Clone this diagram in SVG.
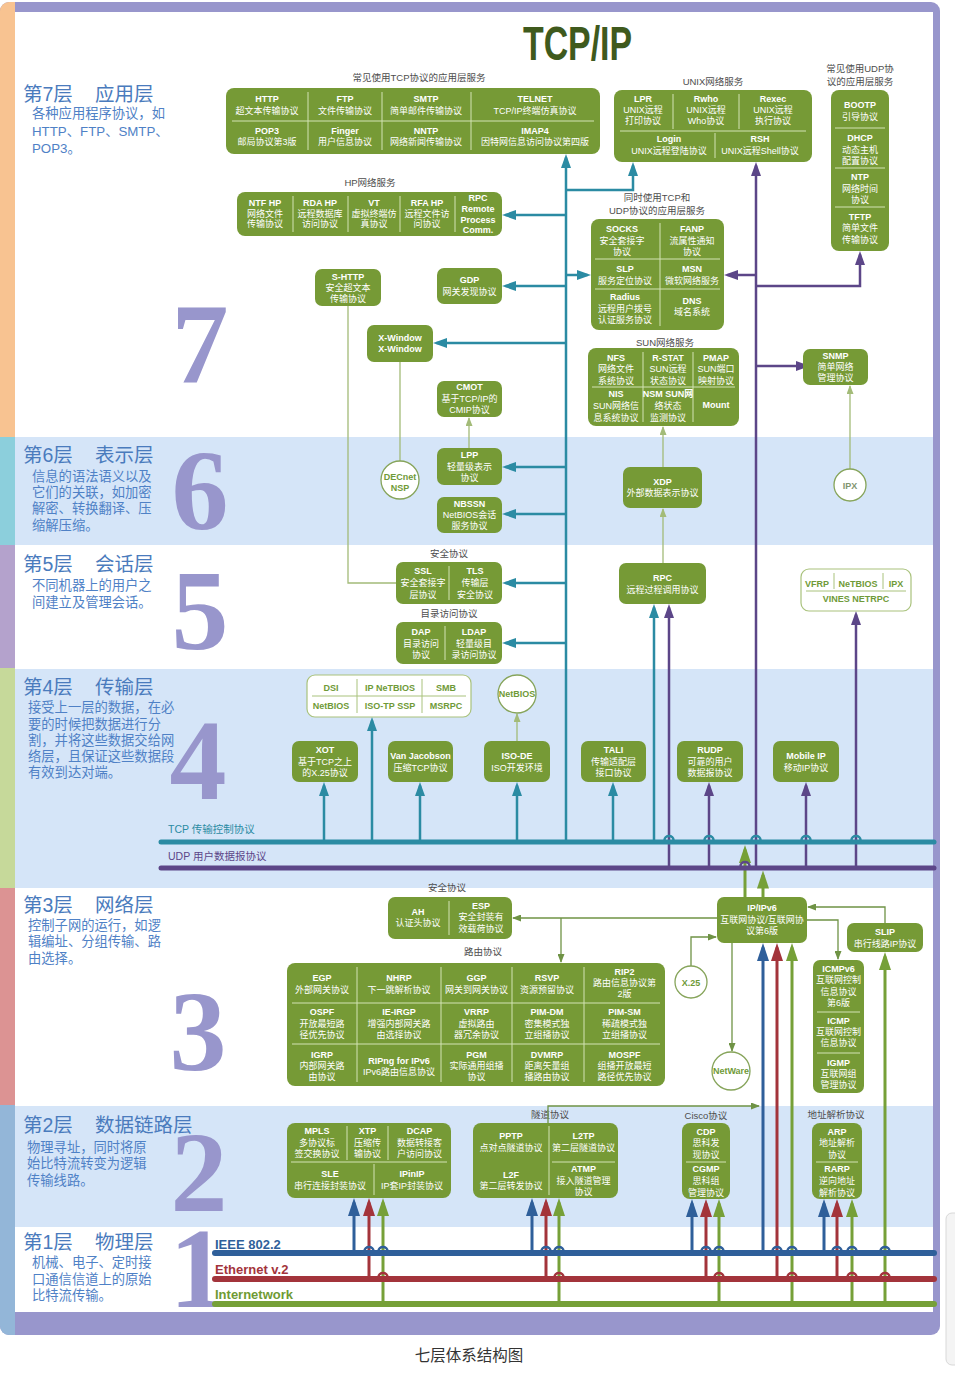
<svg xmlns="http://www.w3.org/2000/svg" width="955" height="1376" viewBox="0 0 955 1376">
<defs>
<style>
text{font-family:"Liberation Sans","Noto Sans CJK SC",sans-serif;}
.g{fill:#769a36;}
.gw{fill:#fff;stroke:#a9c27c;stroke-width:1.2;}
.dv{stroke:#d3e3b4;stroke-width:1;fill:none;}
.dvg{stroke:#a9c27c;stroke-width:1;fill:none;}
.n{fill:#fff;font-size:9px;font-weight:bold;text-anchor:middle;}
.d{fill:#fff;font-size:9px;text-anchor:middle;}
.gt{fill:#6f9a38;font-size:9px;font-weight:bold;text-anchor:middle;}
.lb{fill:#4d4d4d;font-size:9.5px;text-anchor:middle;}
.hd{fill:#4a7bbd;font-size:19.5px;}
.ds{fill:#4f81c6;font-size:13.3px;}
.nm{font-family:"Liberation Serif",serif;font-weight:bold;font-size:114px;fill:#9896cc;text-anchor:middle;}
.cir{fill:#fff;stroke:#86a45a;stroke-width:1.3;}
.ct{fill:none;stroke:#2b8ba3;stroke-width:2.5;}
.cp{fill:none;stroke:#5c4688;stroke-width:2.5;}
.cb{fill:none;stroke:#2f5f9a;stroke-width:3;}
.cr{fill:none;stroke:#a3343b;stroke-width:3;}
.cg{fill:none;stroke:#76a038;stroke-width:3;}
.cs{fill:none;stroke:#6f9345;stroke-width:1.3;}
.cl{fill:none;stroke:#a3bb78;stroke-width:1.3;}
</style>
<marker id="mT" markerUnits="userSpaceOnUse" markerWidth="14" markerHeight="10" refX="10.5" refY="5" orient="auto"><path d="M0,0L14,5L0,10z" fill="#2b8ba3"/></marker>
<marker id="mP" markerUnits="userSpaceOnUse" markerWidth="14" markerHeight="10" refX="10.5" refY="5" orient="auto"><path d="M0,0L14,5L0,10z" fill="#5c4688"/></marker>
<marker id="mB" markerUnits="userSpaceOnUse" markerWidth="18" markerHeight="12" refX="13.5" refY="6" orient="auto"><path d="M0,0L18,6L0,12z" fill="#2f5f9a"/></marker>
<marker id="mR" markerUnits="userSpaceOnUse" markerWidth="18" markerHeight="12" refX="13.5" refY="6" orient="auto"><path d="M0,0L18,6L0,12z" fill="#a3343b"/></marker>
<marker id="mG" markerUnits="userSpaceOnUse" markerWidth="18" markerHeight="12" refX="13.5" refY="6" orient="auto"><path d="M0,0L18,6L0,12z" fill="#76a038"/></marker>
<marker id="mS" markerUnits="userSpaceOnUse" markerWidth="9" markerHeight="7" refX="8" refY="3.5" orient="auto"><path d="M0,0L9,3.5L0,7z" fill="#6f9345"/></marker>
<marker id="mL" markerUnits="userSpaceOnUse" markerWidth="9" markerHeight="7" refX="8" refY="3.5" orient="auto"><path d="M0,0L9,3.5L0,7z" fill="#a3bb78"/></marker>
<clipPath id="fc"><rect x="0" y="2" width="940" height="1333" rx="9"/></clipPath>
</defs>

<rect x="0" y="0" width="955" height="1376" fill="#fff"/>
<g id="frame" clip-path="url(#fc)">
<rect x="0" y="2" width="940" height="1333" fill="#9896cc"/>
<rect x="0" y="2" width="15" height="435" fill="#f8c391"/>
<rect x="0" y="437" width="15" height="108" fill="#8ccfdc"/>
<rect x="0" y="545" width="15" height="123" fill="#b4a2cc"/>
<rect x="0" y="668" width="15" height="220" fill="#c6d99a"/>
<rect x="0" y="888" width="15" height="217" fill="#dc9393"/>
<rect x="0" y="1105" width="15" height="230" fill="#93b6d8"/>
<rect x="15" y="12" width="918" height="425" fill="#fff"/>
<rect x="15" y="437" width="918" height="108" fill="#d5e5f8"/>
<rect x="15" y="545" width="918" height="124" fill="#fff"/>
<rect x="15" y="669" width="918" height="219" fill="#d5e5f8"/>
<rect x="15" y="888" width="918" height="218" fill="#fff"/>
<rect x="15" y="1106" width="918" height="121" fill="#d5e5f8"/>
<rect x="15" y="1227" width="918" height="85" fill="#fff"/>
</g>
<rect x="946" y="1213" width="20" height="152" rx="6" fill="#f4f4f4" stroke="#d8d8d8"/>

<g id="title"><text x="523" y="60" font-size="48" font-weight="bold" fill="#3f5a1d" textLength="109" lengthAdjust="spacingAndGlyphs">TCP/IP</text></g>

<g id="layer-labels">
<text class="hd" x="23" y="101">第7层</text><text class="hd" x="95" y="101">应用层</text>
<text class="ds" x="32" y="118">各种应用程序协议，如</text>
<text class="ds" x="32" y="135.5">HTTP、FTP、SMTP、</text>
<text class="ds" x="32" y="153">POP3。</text>
<text class="hd" x="23" y="462">第6层</text><text class="hd" x="95" y="462">表示层</text>
<text class="ds" x="32" y="481">信息的语法语义以及</text>
<text class="ds" x="32" y="497">它们的关联，如加密</text>
<text class="ds" x="32" y="513">解密、转换翻译、压</text>
<text class="ds" x="32" y="529.5">缩解压缩。</text>
<text class="hd" x="23" y="571">第5层</text><text class="hd" x="95" y="571">会话层</text>
<text class="ds" x="32" y="590">不同机器上的用户之</text>
<text class="ds" x="32" y="607">间建立及管理会话。</text>
<text class="hd" x="23" y="694">第4层</text><text class="hd" x="95" y="694">传输层</text>
<text class="ds" x="28" y="712">接受上一层的数据，在必</text>
<text class="ds" x="28" y="729">要的时候把数据进行分</text>
<text class="ds" x="28" y="745">割，并将这些数据交给网</text>
<text class="ds" x="28" y="761">络层，且保证这些数据段</text>
<text class="ds" x="28" y="777">有效到达对端。</text>
<text class="hd" x="23" y="912">第3层</text><text class="hd" x="95" y="912">网络层</text>
<text class="ds" x="28" y="929.5">控制子网的运行，如逻</text>
<text class="ds" x="28" y="946">辑编址、分组传输、路</text>
<text class="ds" x="28" y="962.5">由选择。</text>
<text class="hd" x="23" y="1132">第2层</text><text class="hd" x="95" y="1132">数据链路层</text>
<text class="ds" x="27" y="1152">物理寻址，同时将原</text>
<text class="ds" x="27" y="1168">始比特流转变为逻辑</text>
<text class="ds" x="27" y="1184.5">传输线路。</text>
<text class="hd" x="23" y="1249">第1层</text><text class="hd" x="95" y="1249">物理层</text>
<text class="ds" x="32" y="1267">机械、电子、定时接</text>
<text class="ds" x="32" y="1283.5">口通信信道上的原始</text>
<text class="ds" x="32" y="1300">比特流传输。</text>
<text class="nm" x="200" y="383">7</text>
<text class="nm" x="200" y="529">6</text>
<text class="nm" x="200" y="649">5</text>
<text class="nm" x="198" y="799">4</text>
<text class="nm" x="198" y="1070">3</text>
<text class="nm" x="199" y="1211">2</text>
<text class="nm" x="198" y="1307">1</text>
</g>

<g id="group-labels">
<text class="lb" x="419" y="81">常见使用TCP协议的应用层服务</text>
<text class="lb" x="370" y="186">HP网络服务</text>
<text class="lb" x="713" y="85">UNIX网络服务</text>
<text class="lb" x="860" y="72">常见使用UDP协</text>
<text class="lb" x="860" y="84.5">议的应用层服务</text>
<text class="lb" x="657" y="201">同时使用TCP和</text>
<text class="lb" x="657" y="213.5">UDP协议的应用层服务</text>
<text class="lb" x="665" y="346">SUN网络服务</text>
<text class="lb" x="449" y="557">安全协议</text>
<text class="lb" x="449" y="617">目录访问协议</text>
<text class="lb" x="447" y="891">安全协议</text>
<text class="lb" x="483" y="955">路由协议</text>
<text class="lb" x="550" y="1118">隧道协议</text>
<text class="lb" x="706" y="1118.5">Cisco协议</text>
<text class="lb" x="836" y="1118">地址解析协议</text>
<text x="168" y="833" font-size="10.5" fill="#2b8ba3">TCP 传输控制协议</text>
<text x="168" y="860" font-size="10.5" fill="#5c4688">UDP 用户数据报协议</text>
<text x="215" y="1249" font-size="13" font-weight="bold" fill="#2f5f9a">IEEE 802.2</text>
<text x="215" y="1273.5" font-size="13" font-weight="bold" fill="#a3343b">Ethernet v.2</text>
<text x="215" y="1299" font-size="13" font-weight="bold" fill="#6f9a33">Internetwork</text>
</g>

<g id="connectors">
<!-- teal TCP -->
<path class="ct" d="M566,842V157.5" marker-end="url(#mT)"/>
<path class="ct" d="M566,190H633V165.5" marker-end="url(#mT)"/>
<path class="ct" d="M566,215H505.5" marker-end="url(#mT)"/>
<path class="ct" d="M566,286H505.5" marker-end="url(#mT)"/>
<path class="ct" d="M566,275H587.5" marker-end="url(#mT)"/>
<path class="ct" d="M566,343H436.5" marker-end="url(#mT)"/>
<path class="ct" d="M566,467H505.5" marker-end="url(#mT)"/>
<path class="ct" d="M566,514H505.5" marker-end="url(#mT)"/>
<path class="ct" d="M566,583H505.5" marker-end="url(#mT)"/>
<path class="ct" d="M566,643H505.5" marker-end="url(#mT)"/>
<path class="ct" d="M654,842V607.5" marker-end="url(#mT)"/>
<path class="ct" d="M324,842V785.5" marker-end="url(#mT)"/>
<path class="ct" d="M372,842V720.5" marker-end="url(#mT)"/>
<path class="ct" d="M420,842V785.5" marker-end="url(#mT)"/>
<path class="ct" d="M517,842V785.5" marker-end="url(#mT)"/>
<path class="ct" d="M613,842V785.5" marker-end="url(#mT)"/>
<!-- purple UDP -->
<path class="cp" d="M756,868V165.5" marker-end="url(#mP)"/>
<path class="cp" d="M756,275H727.5" marker-end="url(#mP)"/>
<path class="cp" d="M756,286H860V254.5" marker-end="url(#mP)"/>
<path class="cp" d="M756,366H806.5" marker-end="url(#mP)"/>
<path class="cp" d="M669,868V607.5" marker-end="url(#mP)"/>
<path class="cp" d="M709,868V785.5" marker-end="url(#mP)"/>
<path class="cp" d="M806,868V785.5" marker-end="url(#mP)"/>
<path class="cp" d="M856,868V614.5" marker-end="url(#mP)"/>
<!-- IP to transport -->
<path class="cg" d="M745,897V849.5" marker-end="url(#mG)"/>
<path class="cg" d="M763,897V875" marker-end="url(#mG)"/>
<!-- light thin green -->
<path class="cl" d="M348,306V583H396"/>
<path class="cl" d="M400,362V461"/>
<path class="cl" d="M469,448V418" marker-end="url(#mL)"/>
<path class="cl" d="M663,563V509" marker-end="url(#mL)"/>
<path class="cl" d="M663,467V427" marker-end="url(#mL)"/>
<path class="cl" d="M517,741V714" marker-end="url(#mL)"/>
<path class="cl" d="M850,469V386" marker-end="url(#mL)"/>
<!-- layer 3 thin green -->
<path class="cs" d="M717,918H513" marker-end="url(#mS)"/>
<path class="cs" d="M561,918V962" marker-end="url(#mS)"/>
<path class="cs" d="M691,966V937H716" marker-end="url(#mS)"/>
<path class="cs" d="M732,943V1051" marker-end="url(#mS)"/>
<path class="cs" d="M807,920H838V959" marker-end="url(#mS)"/>
<path class="cs" d="M885,923V907H808" marker-end="url(#mS)"/>
<path class="cs" d="M548,1123V1106H759" marker-end="url(#mS)"/>
<!-- layer 1 verticals -->
<path class="cb" d="M354,1253V1202.5" marker-end="url(#mB)"/>
<path class="cr" d="M369,1279V1202.5" marker-end="url(#mR)"/>
<path class="cg" d="M383,1304V1202.5" marker-end="url(#mG)"/>
<path class="cb" d="M532,1253V1202.5" marker-end="url(#mB)"/>
<path class="cr" d="M546,1279V1202.5" marker-end="url(#mR)"/>
<path class="cg" d="M559,1304V1202.5" marker-end="url(#mG)"/>
<path class="cb" d="M692,1253V1203.5" marker-end="url(#mB)"/>
<path class="cr" d="M706,1279V1203.5" marker-end="url(#mR)"/>
<path class="cg" d="M719,1304V1203.5" marker-end="url(#mG)"/>
<path class="cb" d="M763,1253V947.5" marker-end="url(#mB)"/>
<path class="cr" d="M777,1279V947.5" marker-end="url(#mR)"/>
<path class="cg" d="M792,1304V947.5" marker-end="url(#mG)"/>
<path class="cb" d="M824,1253V1203.5" marker-end="url(#mB)"/>
<path class="cr" d="M837,1279V1203.5" marker-end="url(#mR)"/>
<path class="cg" d="M852,1304V1203.5" marker-end="url(#mG)"/>
<path class="cg" d="M885,1304V956.5" marker-end="url(#mG)"/>
<!-- bus lines -->
<line x1="161" y1="842" x2="934" y2="842" stroke="#2b8ba3" stroke-width="5" stroke-linecap="round"/>
<line x1="161" y1="868" x2="934" y2="868" stroke="#5c4688" stroke-width="5" stroke-linecap="round"/>
<line x1="215" y1="1253" x2="934" y2="1253" stroke="#2f5f9a" stroke-width="6" stroke-linecap="round"/>
<line x1="215" y1="1279" x2="934" y2="1279" stroke="#a3343b" stroke-width="6" stroke-linecap="round"/>
<line x1="215" y1="1304" x2="934" y2="1304" stroke="#76a038" stroke-width="6" stroke-linecap="round"/>
<!-- crossing bumps -->
<path d="M664.5,840a4.5,4 0 0 1 9,0M704.5,840a4.5,4 0 0 1 9,0M751.5,840a4.5,4 0 0 1 9,0M801.5,840a4.5,4 0 0 1 9,0M851.5,840a4.5,4 0 0 1 9,0" fill="none" stroke="#2b8ba3" stroke-width="2.5"/>
<path d="M740.5,866a4.5,4 0 0 1 9,0" fill="none" stroke="#5c4688" stroke-width="2.5"/>
<path d="M364.5,1251a4.5,4 0 0 1 9,0M378.5,1251a4.5,4 0 0 1 9,0M541.5,1251a4.5,4 0 0 1 9,0M554.5,1251a4.5,4 0 0 1 9,0M701.5,1251a4.5,4 0 0 1 9,0M714.5,1251a4.5,4 0 0 1 9,0M772.5,1251a4.5,4 0 0 1 9,0M787.5,1251a4.5,4 0 0 1 9,0M832.5,1251a4.5,4 0 0 1 9,0M847.5,1251a4.5,4 0 0 1 9,0M880.5,1251a4.5,4 0 0 1 9,0" fill="none" stroke="#2f5f9a" stroke-width="2.5"/>
<path d="M378.5,1277a4.5,4 0 0 1 9,0M554.5,1277a4.5,4 0 0 1 9,0M714.5,1277a4.5,4 0 0 1 9,0M787.5,1277a4.5,4 0 0 1 9,0M847.5,1277a4.5,4 0 0 1 9,0M880.5,1277a4.5,4 0 0 1 9,0" fill="none" stroke="#a3343b" stroke-width="2.5"/>
</g>

<g id="tcp-apps"><rect class="g" x="226" y="88" width="374" height="66" rx="8"/>
<path class="dv" d="M232,121H594M308,92V150M382,92V150M471,92V150"/>
<text class="n" x="267" y="102">HTTP</text><text class="d" x="267" y="113.5">超文本传输协议</text>
<text class="n" x="345" y="102">FTP</text><text class="d" x="345" y="113.5">文件传输协议</text>
<text class="n" x="426" y="102">SMTP</text><text class="d" x="426" y="113.5">简单邮件传输协议</text>
<text class="n" x="535" y="102">TELNET</text><text class="d" x="535" y="113.5">TCP/IP终端仿真协议</text>
<text class="n" x="267" y="134">POP3</text><text class="d" x="267" y="145">邮局协议第3版</text>
<text class="n" x="345" y="134">Finger</text><text class="d" x="345" y="145">用户信息协议</text>
<text class="n" x="426" y="134">NNTP</text><text class="d" x="426" y="145">网络新闻传输协议</text>
<text class="n" x="535" y="134">IMAP4</text><text class="d" x="535" y="145">因特网信息访问协议第四版</text>
</g>

<g id="hp"><rect class="g" x="237" y="192" width="265" height="44" rx="8"/>
<path class="dv" d="M293,196V232M348,196V232M400,196V232M455,196V232"/>
<text class="n" x="265" y="206">NTF HP</text><text class="d" x="265" y="216.5">网络文件</text><text class="d" x="265" y="227">传输协议</text>
<text class="n" x="320" y="206">RDA HP</text><text class="d" x="320" y="216.5">远程数据库</text><text class="d" x="320" y="227">访问协议</text>
<text class="n" x="374" y="206">VT</text><text class="d" x="374" y="216.5">虚拟终端仿</text><text class="d" x="374" y="227">真协议</text>
<text class="n" x="427" y="206">RFA HP</text><text class="d" x="427" y="216.5">远程文件访</text><text class="d" x="427" y="227">问协议</text>
<text class="n" x="478" y="201">RPC</text><text class="n" x="478" y="212">Remote</text><text class="n" x="478" y="223">Process</text><text class="n" x="478" y="233">Comm.</text>
</g>

<g id="unix"><rect class="g" x="614" y="90" width="198" height="72" rx="8"/>
<path class="dv" d="M620,131H806M673,94V129M739,94V129M715,133V158"/>
<text class="n" x="643" y="102">LPR</text><text class="d" x="643" y="113">UNIX远程</text><text class="d" x="643" y="124">打印协议</text>
<text class="n" x="706" y="102">Rwho</text><text class="d" x="706" y="113">UNIX远程</text><text class="d" x="706" y="124">Who协议</text>
<text class="n" x="773" y="102">Rexec</text><text class="d" x="773" y="113">UNIX远程</text><text class="d" x="773" y="124">执行协议</text>
<text class="n" x="669" y="142">Login</text><text class="d" x="669" y="153.5">UNIX远程登陆协议</text>
<text class="n" x="760" y="142">RSH</text><text class="d" x="760" y="153.5">UNIX远程Shell协议</text>
</g>

<g id="udp-apps"><rect class="g" x="831" y="90" width="58" height="161" rx="8"/>
<path class="dv" d="M835,128H885M835,168H885M835,207H885"/>
<text class="n" x="860" y="108">BOOTP</text><text class="d" x="860" y="120">引导协议</text>
<text class="n" x="860" y="141">DHCP</text><text class="d" x="860" y="152.5">动态主机</text><text class="d" x="860" y="164">配置协议</text>
<text class="n" x="860" y="180">NTP</text><text class="d" x="860" y="191.5">网络时间</text><text class="d" x="860" y="203">协议</text>
<text class="n" x="860" y="220">TFTP</text><text class="d" x="860" y="231">简单文件</text><text class="d" x="860" y="243">传输协议</text>
</g>

<g id="tcpudp-apps"><rect class="g" x="591" y="219" width="133" height="111" rx="8"/>
<path class="dv" d="M660,223V326M595,259H720M595,289H720"/>
<text class="n" x="622" y="232">SOCKS</text><text class="d" x="622" y="243.5">安全套接字</text><text class="d" x="622" y="255">协议</text>
<text class="n" x="692" y="232">FANP</text><text class="d" x="692" y="243.5">流属性通知</text><text class="d" x="692" y="255">协议</text>
<text class="n" x="625" y="272">SLP</text><text class="d" x="625" y="284">服务定位协议</text>
<text class="n" x="692" y="272">MSN</text><text class="d" x="692" y="284">微软网络服务</text>
<text class="n" x="625" y="300">Radius</text><text class="d" x="625" y="311.5">远程用户拨号</text><text class="d" x="625" y="323">认证服务协议</text>
<text class="n" x="692" y="304">DNS</text><text class="d" x="692" y="315">域名系统</text>
</g>

<g id="sun"><rect class="g" x="588" y="348" width="151" height="78" rx="8"/>
<path class="dv" d="M592,387H735M643,352V422M693,352V422"/>
<text class="n" x="616" y="361">NFS</text><text class="d" x="616" y="372">网络文件</text><text class="d" x="616" y="383.5">系统协议</text>
<text class="n" x="668" y="361">R-STAT</text><text class="d" x="668" y="372">SUN远程</text><text class="d" x="668" y="383.5">状态协议</text>
<text class="n" x="716" y="361">PMAP</text><text class="d" x="716" y="372">SUN端口</text><text class="d" x="716" y="383.5">映射协议</text>
<text class="n" x="616" y="397">NIS</text><text class="d" x="616" y="408.5">SUN网络信</text><text class="d" x="616" y="420.5">息系统协议</text>
<text class="n" x="668" y="397">NSM SUN网</text><text class="d" x="668" y="408.5">络状态</text><text class="d" x="668" y="420.5">监测协议</text>
<text class="n" x="716" y="408">Mount</text>
</g>

<g id="snmp"><rect class="g" x="803" y="349" width="65" height="36" rx="7"/>
<text class="n" x="835.5" y="359">SNMP</text><text class="d" x="835.5" y="370">简单网络</text><text class="d" x="835.5" y="381">管理协议</text>
</g>

<g id="shttp"><rect class="g" x="315" y="269" width="66" height="37" rx="7"/>
<text class="n" x="348" y="279.5">S-HTTP</text><text class="d" x="348" y="291">安全超文本</text><text class="d" x="348" y="302">传输协议</text></g>
<g id="gdp"><rect class="g" x="437" y="268" width="65" height="36" rx="7"/>
<text class="n" x="469.5" y="283">GDP</text><text class="d" x="469.5" y="294.5">网关发现协议</text></g>
<g id="xwindow"><rect class="g" x="367" y="325" width="66" height="37" rx="7"/>
<text class="n" x="400" y="341">X-Window</text><text class="n" x="400" y="352">X-Window</text></g>
<g id="cmot"><rect class="g" x="437" y="381" width="65" height="36" rx="7"/>
<text class="n" x="469.5" y="390">CMOT</text><text class="d" x="469.5" y="401.5">基于TCP/IP的</text><text class="d" x="469.5" y="413">CMIP协议</text></g>

<g id="decnet"><circle class="cir" cx="400" cy="480" r="19"/>
<text class="gt" x="400" y="479.5" font-size="8.5">DECnet</text><text class="gt" x="400" y="491">NSP</text></g>
<g id="lpp"><rect class="g" x="437" y="448" width="65" height="37" rx="7"/>
<text class="n" x="469.5" y="458">LPP</text><text class="d" x="469.5" y="469.5">轻量级表示</text><text class="d" x="469.5" y="481">协议</text></g>
<g id="nbssn"><rect class="g" x="437" y="497" width="65" height="36" rx="7"/>
<text class="n" x="469.5" y="506.5">NBSSN</text><text class="d" x="469.5" y="517.5">NetBIOS会话</text><text class="d" x="469.5" y="529">服务协议</text></g>
<g id="xdp"><rect class="g" x="623" y="467" width="79" height="41" rx="7"/>
<text class="n" x="662.5" y="485">XDP</text><text class="d" x="662.5" y="496">外部数据表示协议</text></g>
<g id="ipx"><circle class="cir" cx="850" cy="485" r="16"/>
<text class="gt" x="850" y="488.5" style="fill:#7f9470">IPX</text></g>

<g id="sec5"><rect class="g" x="396" y="562" width="106" height="42" rx="7"/>
<path class="dv" d="M449,566V600"/>
<text class="n" x="423" y="574">SSL</text><text class="d" x="423" y="586">安全套接字</text><text class="d" x="423" y="597.5">层协议</text>
<text class="n" x="475" y="574">TLS</text><text class="d" x="475" y="586">传输层</text><text class="d" x="475" y="597.5">安全协议</text></g>
<g id="dir5"><rect class="g" x="396" y="622" width="106" height="42" rx="7"/>
<path class="dv" d="M445,626V660"/>
<text class="n" x="421" y="635">DAP</text><text class="d" x="421" y="646.5">目录访问</text><text class="d" x="421" y="658">协议</text>
<text class="n" x="474" y="635">LDAP</text><text class="d" x="474" y="646.5">轻量级目</text><text class="d" x="474" y="658">录访问协议</text></g>
<g id="rpc"><rect class="g" x="619" y="563" width="87" height="41" rx="7"/>
<text class="n" x="662.5" y="581">RPC</text><text class="d" x="662.5" y="592.5">远程过程调用协议</text></g>
<g id="vines"><rect class="gw" x="801" y="569" width="110" height="42" rx="8"/>
<path class="dvg" d="M806,591H906M834,573V589M883,573V589"/>
<text class="gt" x="817" y="587">VFRP</text><text class="gt" x="858" y="587">NeTBIOS</text><text class="gt" x="896" y="587">IPX</text>
<text class="gt" x="856" y="602">VINES NETRPC</text></g>

<g id="dsi"><rect class="gw" x="307" y="675" width="164" height="42" rx="8"/>
<path class="dvg" d="M312,696H466M357,679V713M422,679V713"/>
<text class="gt" x="331" y="690.5">DSI</text><text class="gt" x="390" y="690.5">IP NeTBIOS</text><text class="gt" x="446" y="690.5">SMB</text>
<text class="gt" x="331" y="709">NetBIOS</text><text class="gt" x="390" y="709">ISO-TP SSP</text><text class="gt" x="446" y="709">MSRPC</text></g>
<g id="netbios"><circle class="cir" cx="517" cy="694" r="19"/>
<text class="gt" x="517" y="697" font-size="8.5">NetBIOS</text></g>
<g id="xot"><rect class="g" x="292" y="741" width="66" height="41" rx="7"/>
<text class="n" x="325" y="753">XOT</text><text class="d" x="325" y="764.5">基于TCP之上</text><text class="d" x="325" y="775.5">的X.25协议</text></g>
<g id="vanjacobson"><rect class="g" x="388" y="741" width="65" height="41" rx="7"/>
<text class="n" x="420.5" y="759">Van Jacobson</text><text class="d" x="420.5" y="770.5">压缩TCP协议</text></g>
<g id="isode"><rect class="g" x="484" y="741" width="66" height="41" rx="7"/>
<text class="n" x="517" y="759">ISO-DE</text><text class="d" x="517" y="770.5">ISO开发环境</text></g>
<g id="tali"><rect class="g" x="581" y="741" width="65" height="41" rx="7"/>
<text class="n" x="613.5" y="753">TALI</text><text class="d" x="613.5" y="764.5">传输适配层</text><text class="d" x="613.5" y="775.5">接口协议</text></g>
<g id="rudp"><rect class="g" x="677" y="741" width="66" height="41" rx="7"/>
<text class="n" x="710" y="753">RUDP</text><text class="d" x="710" y="764.5">可靠的用户</text><text class="d" x="710" y="775.5">数据报协议</text></g>
<g id="mobileip"><rect class="g" x="773" y="741" width="66" height="41" rx="7"/>
<text class="n" x="806" y="759">Mobile IP</text><text class="d" x="806" y="770.5">移动IP协议</text></g>

<g id="sec3"><rect class="g" x="388" y="897" width="124" height="42" rx="7"/>
<path class="dv" d="M449,901V935"/>
<text class="n" x="418" y="915">AH</text><text class="d" x="418" y="926">认证头协议</text>
<text class="n" x="481" y="908.5">ESP</text><text class="d" x="481" y="920">安全封装有</text><text class="d" x="481" y="931.5">效载荷协议</text></g>
<g id="routing"><rect class="g" x="287" y="963" width="378" height="123" rx="8"/>
<path class="dv" d="M292,1003H660M292,1044H660M357,967V1082M441,967V1082M512,967V1082M584,967V1082"/>
<text class="n" x="322" y="981">EGP</text><text class="d" x="322" y="992.5">外部网关协议</text>
<text class="n" x="399" y="981">NHRP</text><text class="d" x="399" y="992.5">下一跳解析协议</text>
<text class="n" x="476.5" y="981">GGP</text><text class="d" x="476.5" y="992.5">网关到网关协议</text>
<text class="n" x="547" y="981">RSVP</text><text class="d" x="547" y="992.5">资源预留协议</text>
<text class="n" x="624.5" y="975">RIP2</text><text class="d" x="624.5" y="986">路由信息协议第</text><text class="d" x="624.5" y="997">2版</text>
<text class="n" x="322" y="1015">OSPF</text><text class="d" x="322" y="1027">开放最短路</text><text class="d" x="322" y="1038">径优先协议</text>
<text class="n" x="399" y="1015">IE-IRGP</text><text class="d" x="399" y="1027">增强内部网关路</text><text class="d" x="399" y="1038">由选择协议</text>
<text class="n" x="476.5" y="1015">VRRP</text><text class="d" x="476.5" y="1027">虚拟路由</text><text class="d" x="476.5" y="1038">器冗余协议</text>
<text class="n" x="547" y="1015">PIM-DM</text><text class="d" x="547" y="1027">密集模式独</text><text class="d" x="547" y="1038">立组播协议</text>
<text class="n" x="624.5" y="1015">PIM-SM</text><text class="d" x="624.5" y="1027">稀疏模式独</text><text class="d" x="624.5" y="1038">立组播协议</text>
<text class="n" x="322" y="1057.5">IGRP</text><text class="d" x="322" y="1069">内部网关路</text><text class="d" x="322" y="1080">由协议</text>
<text class="n" x="399" y="1063.5">RIPng for IPv6</text><text class="d" x="399" y="1075">IPv6路由信息协议</text>
<text class="n" x="476.5" y="1057.5">PGM</text><text class="d" x="476.5" y="1069">实际通用组播</text><text class="d" x="476.5" y="1080">协议</text>
<text class="n" x="547" y="1057.5">DVMRP</text><text class="d" x="547" y="1069">距离矢量组</text><text class="d" x="547" y="1080">播路由协议</text>
<text class="n" x="624.5" y="1057.5">MOSPF</text><text class="d" x="624.5" y="1069">组播开放最短</text><text class="d" x="624.5" y="1080">路径优先协议</text>
</g>
<g id="x25"><circle class="cir" cx="691" cy="982" r="16"/>
<text class="gt" x="691" y="985.5">X.25</text></g>
<g id="netware"><circle class="cir" cx="731" cy="1071" r="19"/>
<text class="gt" x="731" y="1074" font-size="8.5">NetWare</text></g>
<g id="ip"><rect class="g" x="717" y="897" width="90" height="46" rx="7"/>
<text class="n" x="762" y="911">IP/IPv6</text><text class="d" x="762" y="922.5">互联网协议/互联网协</text><text class="d" x="762" y="934">议第6版</text></g>
<g id="slip"><rect class="g" x="847" y="923" width="76" height="29" rx="7"/>
<text class="n" x="885" y="935">SLIP</text><text class="d" x="885" y="946.5">串行线路IP协议</text></g>
<g id="icmp"><rect class="g" x="813" y="960" width="51" height="133" rx="7"/>
<path class="dv" d="M817,1012H860M817,1053H860"/>
<text class="n" x="838.5" y="972">ICMPv6</text><text class="d" x="838.5" y="983">互联网控制</text><text class="d" x="838.5" y="994.5">信息协议</text><text class="d" x="838.5" y="1005.5">第6版</text>
<text class="n" x="838.5" y="1023.5">ICMP</text><text class="d" x="838.5" y="1035">互联网控制</text><text class="d" x="838.5" y="1046">信息协议</text>
<text class="n" x="838.5" y="1065.5">IGMP</text><text class="d" x="838.5" y="1076.5">互联网组</text><text class="d" x="838.5" y="1088">管理协议</text></g>

<g id="l2-mpls"><rect class="g" x="287" y="1123" width="164" height="75" rx="8"/>
<path class="dv" d="M291,1162H447M347,1126V1160M388,1126V1160M374,1164V1195"/>
<text class="n" x="317" y="1134">MPLS</text><text class="d" x="317" y="1145.5">多协议标</text><text class="d" x="317" y="1157">签交换协议</text>
<text class="n" x="367.5" y="1134">XTP</text><text class="d" x="367.5" y="1145.5">压缩传</text><text class="d" x="367.5" y="1157">输协议</text>
<text class="n" x="419.5" y="1134">DCAP</text><text class="d" x="419.5" y="1145.5">数据转接客</text><text class="d" x="419.5" y="1157">户访问协议</text>
<text class="n" x="330" y="1177">SLE</text><text class="d" x="330" y="1189">串行连接封装协议</text>
<text class="n" x="412" y="1177">IPinIP</text><text class="d" x="412" y="1189">IP套IP封装协议</text></g>
<g id="l2-tunnel"><rect class="g" x="473" y="1123" width="145" height="75" rx="8"/>
<path class="dv" d="M549,1126V1195M552,1162H615"/>
<text class="n" x="511" y="1139">PPTP</text><text class="d" x="511" y="1151">点对点隧道协议</text>
<text class="n" x="583.5" y="1139">L2TP</text><text class="d" x="583.5" y="1151">第二层隧道协议</text>
<text class="n" x="511" y="1177.5">L2F</text><text class="d" x="511" y="1189">第二层转发协议</text>
<text class="n" x="583.5" y="1172">ATMP</text><text class="d" x="583.5" y="1183.5">接入隧道管理</text><text class="d" x="583.5" y="1194.5">协议</text></g>
<g id="l2-cisco"><rect class="g" x="682" y="1123" width="48" height="76" rx="8"/>
<path class="dv" d="M686,1162H726"/>
<text class="n" x="706" y="1134.5">CDP</text><text class="d" x="706" y="1146">思科发</text><text class="d" x="706" y="1157.5">现协议</text>
<text class="n" x="706" y="1172">CGMP</text><text class="d" x="706" y="1184">思科组</text><text class="d" x="706" y="1195.5">管理协议</text></g>
<g id="l2-arp"><rect class="g" x="812" y="1123" width="50" height="76" rx="8"/>
<path class="dv" d="M816,1162H858"/>
<text class="n" x="837" y="1134.5">ARP</text><text class="d" x="837" y="1146">地址解析</text><text class="d" x="837" y="1157.5">协议</text>
<text class="n" x="837" y="1172">RARP</text><text class="d" x="837" y="1184">逆向地址</text><text class="d" x="837" y="1195.5">解析协议</text></g>

<g id="caption"><text x="469" y="1361" font-size="15.5" fill="#333" text-anchor="middle">七层体系结构图</text></g>
</svg>
